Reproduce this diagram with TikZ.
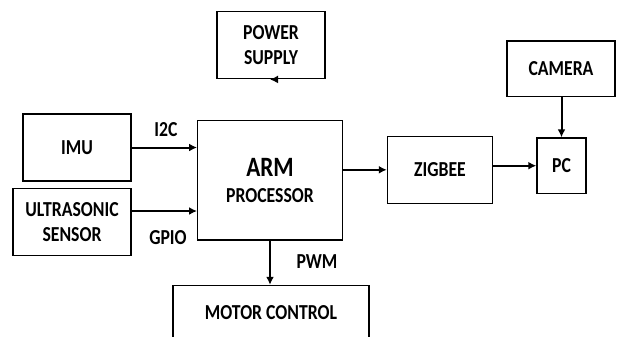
\documentclass[tikz,border=0pt]{standalone}
\usepackage{fontspec}
\setmainfont{Carlito}[FakeStretch=0.83]
\usetikzlibrary{arrows.meta}

\begin{document}
\begin{tikzpicture}[x=0.75pt,y=-0.75pt,>=Latex,
    block/.style={draw,line width=1.1pt,align=center,inner sep=0pt,
      font=\bfseries\fontsize{16}{18.5}\selectfont},
    lbl/.style={font=\bfseries\fontsize{16}{18.5}\selectfont},
    wire/.style={->,line width=1.5pt,>={Latex[length=6pt,width=6pt]}}]
        \useasboundingbox (0,0) rectangle (617,336);
        \clip (0,0) rectangle (617,336);
        % blocks
        \node[block,minimum width=81pt,minimum height=50.25pt] (power) at (271,45.2) {POWER\\SUPPLY};
        \node[block,minimum width=81pt,minimum height=50.25pt] (imu) at (77,147.5) {IMU};
        \node[block,minimum width=88.5pt,minimum height=50.25pt] (ultra) at (72,222) {ULTRASONIC\\SENSOR};
        \node[block,minimum width=108.4pt,minimum height=89.5pt] (arm) at (270,180.4)
          {{\fontsize{21}{22}\selectfont ARM}\\[1pt]PROCESSOR};
        \node[block,minimum width=147pt,minimum height=41.25pt] (motor) at (271,313) {MOTOR CONTROL};
        \node[block,minimum width=78.75pt,minimum height=50.25pt] (zigbee) at (440,169.8) {ZIGBEE};
        \node[block,minimum width=36.75pt,minimum height=41.5pt] (pc) at (561.5,165.7) {PC};
        \node[block,minimum width=81pt,minimum height=41.7pt] (camera) at (561,68.7) {CAMERA};
        % links
        \draw[wire] (power.south) -- (power.south -| arm.north);
        \draw[wire] (imu.east) -- (imu.east -| arm.west);
        \coordinate (us) at ([yshift=8.25pt]ultra.east);
        \draw[wire] (us) -- (us -| arm.west);
        \draw[wire] (zigbee.west -| arm.east) -- (zigbee.west);
        \draw[wire] (pc.west -| zigbee.east) -- (pc.west);
        \draw[wire] (camera.south -| pc.north) -- (pc.north);
        \draw[wire] (arm.south) -- (arm.south |- motor.north);
        % bus names
        \node[lbl] (i2c) at (166,130) {I2C};
        \node[lbl] (gpio) at (168,238) {GPIO};
        \node[lbl] (pwm) at (317,262) {PWM};
      \end{tikzpicture}
\end{document}
